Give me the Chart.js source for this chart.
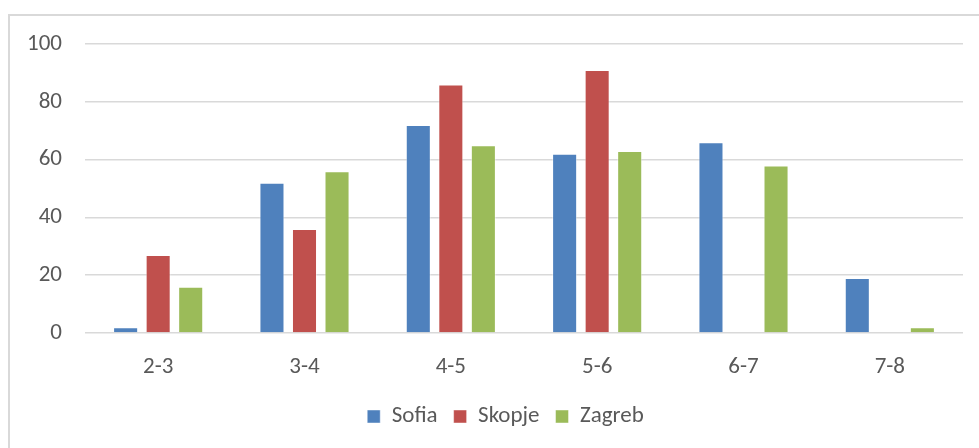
<!DOCTYPE html>
<html>
<head>
<meta charset="utf-8">
<script src="https://cdn.jsdelivr.net/npm/chart.js@4"></script>
<style>
  html, body { margin: 0; padding: 0; background: #fff; }
  #wrap { position: relative; width: 979px; height: 448px; overflow: hidden; }
  #frame {
    position: absolute; left: 8px; top: 14px; width: 980px; height: 440px;
    border-top: 2px solid #d9d9d9; border-left: 2px solid #d9d9d9;
    pointer-events: none;
  }
  canvas { position: absolute; left: 0; top: 0; }
</style>
</head>
<body>
<div id="wrap">
  <canvas id="chart" width="979" height="448"></canvas>
  <div id="frame"></div>
</div>
<script>
const categories = ["2-3", "3-4", "4-5", "5-6", "6-7", "7-8"];
const sofia = [2, 52, 72, 62, 66, 19];
const skopje = [27, 36, 86, 91, 0, 0];
const zagreb = [16, 56, 65, 63, 58, 2];
const yTicks = [0, 20, 40, 60, 80, 100];

const textColor = "#595959";
const fontFamily = "Carlito, Lato, 'Open Sans', sans-serif";
const fontSize = 23;

function series(label, data, color) {
    return {
        label,
        data,
        backgroundColor: color,
        borderColor: "rgba(255,255,255,0.45)",
        borderWidth: 1,
        borderSkipped: "bottom",
        barPercentage: 0.77,
        categoryPercentage: 0.667
    };
}

// nudge the legend row a little to the right of the canvas centre
const legendShift = {
    id: "legendShift",
    afterLayout(chart) {
        const legend = chart.legend;
        if (legend) {
            legend.left += 24;
            legend.right += 24;
        }
    }
};

new Chart(document.getElementById("chart"), {
    type: "bar",
    data: {
        labels: categories,
        datasets: [
            series("Sofia", sofia, "#4f81bd"),
            series("Skopje", skopje, "#c0504d"),
            series("Zagreb", zagreb, "#9bbb59")
        ]
    },
    plugins: [legendShift],
    options: {
        responsive: false,
        animation: false,
        layout: { padding: { left: 0, right: 16, top: 44, bottom: 10 } },
        plugins: {
            tooltip: { enabled: false },
            legend: {
                position: "bottom",
                labels: {
                    color: textColor,
                    font: { family: fontFamily, size: fontSize },
                    boxWidth: 13,
                    boxHeight: 13,
                    padding: 16
                }
            }
        },
        scales: {
            x: {
                grid: { display: false, drawTicks: false },
                border: { display: false },
                ticks: {
                    color: textColor,
                    font: { family: fontFamily, size: fontSize },
                    padding: 20
                },
                afterFit: (scale) => { scale.height = 56; }
            },
            y: {
                min: 0,
                max: 100,
                afterBuildTicks: (scale) => {
                    scale.ticks = yTicks.map((value) => ({ value }));
                },
                grid: { color: "#d9d9d9", lineWidth: 1.5, drawTicks: false },
                border: { display: false },
                ticks: {
                    color: textColor,
                    font: { family: fontFamily, size: fontSize },
                    padding: 23
                },
                afterFit: (scale) => { scale.width = 85; }
            }
        }
    }
});
</script>
</body>
</html>
